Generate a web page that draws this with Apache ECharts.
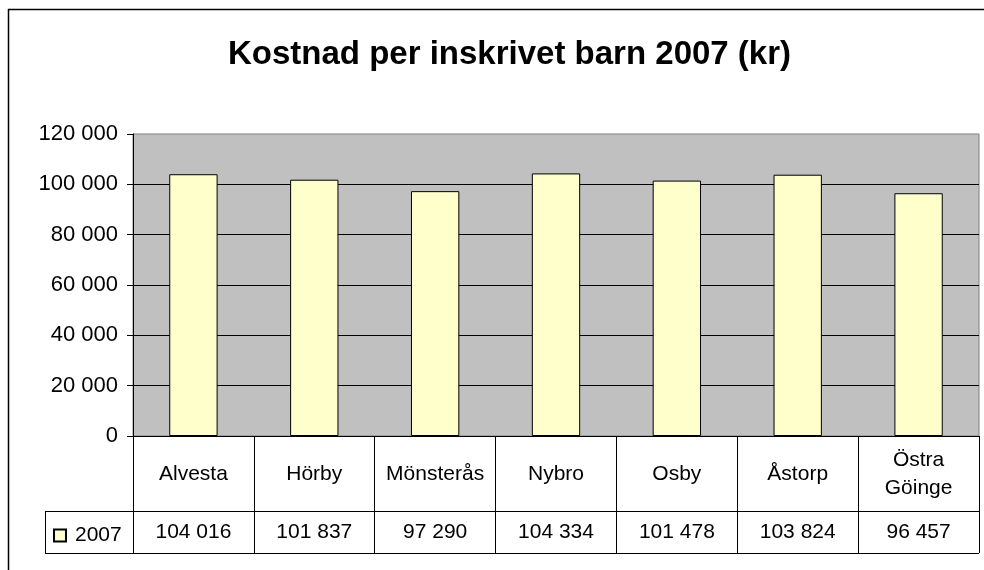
<!DOCTYPE html>
<html>
<head>
<meta charset="utf-8">
<script src="https://cdn.jsdelivr.net/npm/echarts@6/dist/echarts.min.js"></script>
<style>
html,body{margin:0;padding:0;background:#fff;}
#chart{width:984px;height:570px;}
</style>
</head>
<body>
<div id="chart"></div>
<script>
const categories = ['Alvesta', 'Hörby', 'Mönsterås', 'Nybro', 'Osby', 'Åstorp', 'Östra\nGöinge'];
const values2007 = [104016, 101837, 97290, 104334, 101478, 103824, 96457];
const seriesName = '2007';
const titleText = 'Kostnad per inskrivet barn 2007 (kr)';
const yTicks = { min: 0, max: 120000, interval: 20000 };

function fmt(v) { return String(v).replace(/\B(?=(\d{3})+(?!\d))/g, ' '); }

const FONT = 'Liberation Sans';
const chart = echarts.init(document.getElementById('chart'), null, { renderer: 'canvas' });

chart.setOption({
  backgroundColor: '#ffffff',
  animation: false,
  title: {
    text: titleText,
    left: 223,
    top: 33,
    textStyle: { fontFamily: FONT, fontSize: 33, fontWeight: 'bold', color: '#000' }
  },
  legend: {
    data: [seriesName],
    left: 48,
    top: 520,
    itemWidth: 12,
    itemHeight: 12,
    icon: 'rect',
    textStyle: { fontFamily: FONT, fontSize: 21, color: '#000', padding: [0, 0, 0, 4] }
  },
  grid: {
    left: 133, right: 5, top: 134, bottom: 134,
    show: true, backgroundColor: '#C0C0C0', borderColor: '#808080', borderWidth: 1,
    containLabel: false
  },
  xAxis: [
    {
      type: 'category',
      data: categories,
      boundaryGap: true,
      axisLine: { show: true, lineStyle: { color: '#000', width: 1 } },
      axisTick: { show: true, interval: 0, length: 117, inside: false, lineStyle: { color: '#000', width: 1 } },
      axisLabel: {
        interval: 0, margin: 38, verticalAlign: 'middle', lineHeight: 28,
        fontFamily: FONT, fontSize: 21, color: '#000'
      },
      splitLine: { show: false }
    },
    {
      type: 'category',
      data: values2007.map(fmt),
      position: 'bottom',
      boundaryGap: true,
      axisLine: { show: false },
      axisTick: { show: false },
      axisLabel: {
        interval: 0, margin: 96, verticalAlign: 'middle',
        fontFamily: FONT, fontSize: 21, color: '#000'
      },
      splitLine: { show: false }
    }
  ],
  yAxis: {
    type: 'value',
    min: yTicks.min, max: yTicks.max, interval: yTicks.interval,
    axisLine: { show: true, lineStyle: { color: '#000', width: 1 } },
    axisTick: { show: true, length: 6, inside: false, lineStyle: { color: '#000' } },
    axisLabel: { margin: 15, fontFamily: FONT, fontSize: 22, color: '#000', formatter: fmt },
    splitLine: { show: true, showMaxLine: false, lineStyle: { color: '#000', width: 1 } }
  },
  series: [{
    name: seriesName,
    type: 'bar',
    xAxisIndex: 0,
    data: values2007,
    barWidth: '40%',
    itemStyle: { color: '#FFFFCC', borderColor: '#000', borderWidth: 1 }
  }],
  graphic: [
    { type: 'line', shape: { x1: 8.5, y1: 9, x2: 8.5, y2: 570 }, style: { stroke: '#000', lineWidth: 1.5 }, silent: true },
    { type: 'line', shape: { x1: 8, y1: 9.5, x2: 984, y2: 9.5 }, style: { stroke: '#000', lineWidth: 1.5 }, silent: true },
    { type: 'line', shape: { x1: 45, y1: 511.5, x2: 979, y2: 511.5 }, style: { stroke: '#000', lineWidth: 1 }, silent: true },
    { type: 'line', shape: { x1: 45, y1: 553.5, x2: 979, y2: 553.5 }, style: { stroke: '#000', lineWidth: 1 }, silent: true },
    { type: 'line', shape: { x1: 45.5, y1: 511, x2: 45.5, y2: 554 }, style: { stroke: '#000', lineWidth: 1 }, silent: true }
  ]
});
</script>
</body>
</html>
